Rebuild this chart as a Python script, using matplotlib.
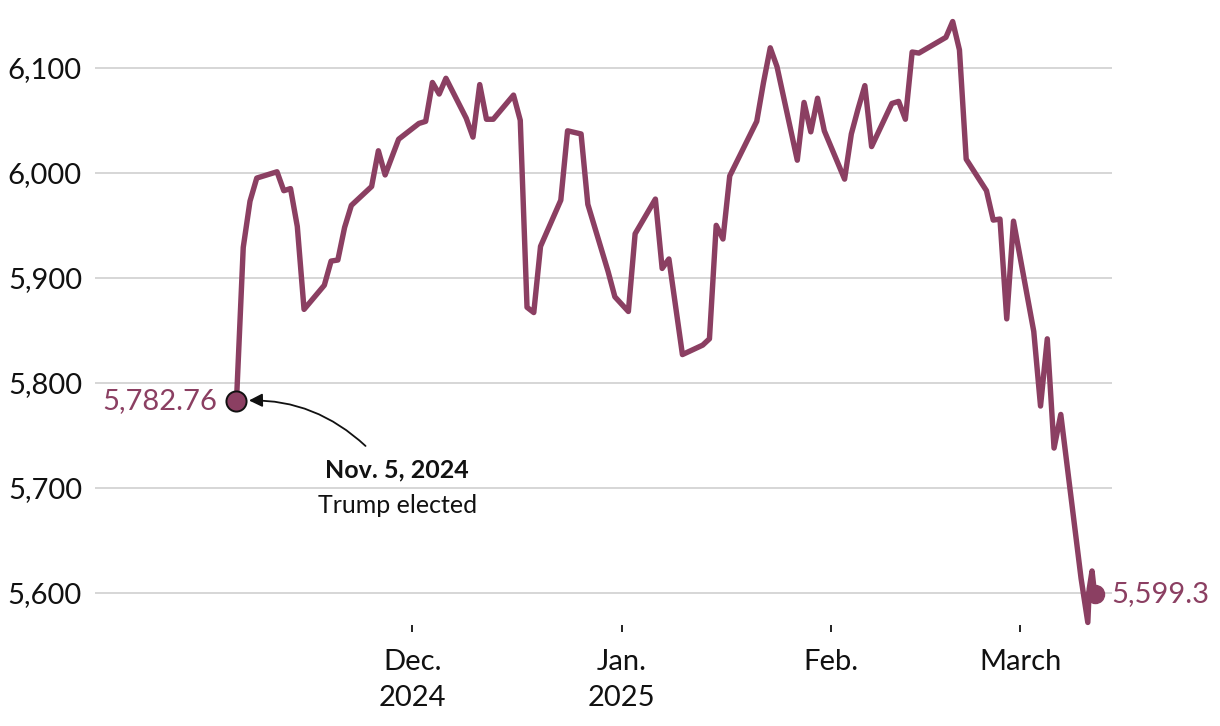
import pandas as pd
import matplotlib.pyplot as plt
import matplotlib.dates as mdates

plt.rcParams['font.family'] = ['Lato', 'DejaVu Sans']

# S&P 500 closes
dates = ['2024-11-05', '2024-11-06', '2024-11-07', '2024-11-08', '2024-11-11',
         '2024-11-12', '2024-11-13', '2024-11-14', '2024-11-15', '2024-11-18',
         '2024-11-19', '2024-11-20', '2024-11-21', '2024-11-22', '2024-11-25',
         '2024-11-26', '2024-11-27', '2024-11-29', '2024-12-02', '2024-12-03',
         '2024-12-04', '2024-12-05', '2024-12-06', '2024-12-09', '2024-12-10',
         '2024-12-11', '2024-12-12', '2024-12-13', '2024-12-16', '2024-12-17',
         '2024-12-18', '2024-12-19', '2024-12-20', '2024-12-23', '2024-12-24',
         '2024-12-26', '2024-12-27', '2024-12-30', '2024-12-31', '2025-01-02',
         '2025-01-03', '2025-01-06', '2025-01-07', '2025-01-08', '2025-01-10',
         '2025-01-13', '2025-01-14', '2025-01-15', '2025-01-16', '2025-01-17',
         '2025-01-21', '2025-01-22', '2025-01-23', '2025-01-24', '2025-01-27',
         '2025-01-28', '2025-01-29', '2025-01-30', '2025-01-31', '2025-02-03',
         '2025-02-04', '2025-02-05', '2025-02-06', '2025-02-07', '2025-02-10',
         '2025-02-11', '2025-02-12', '2025-02-13', '2025-02-14', '2025-02-18',
         '2025-02-19', '2025-02-20', '2025-02-21', '2025-02-24', '2025-02-25',
         '2025-02-26', '2025-02-27', '2025-02-28', '2025-03-03', '2025-03-04',
         '2025-03-05', '2025-03-06', '2025-03-07', '2025-03-10', '2025-03-11',
         '2025-03-11 05:00', '2025-03-11 15:00', '2025-03-12']
values = [5782.76, 5929, 5973, 5995, 6001,
          5983, 5985, 5949, 5870, 5893,
          5916, 5917, 5948, 5969, 5987,
          6021, 5998, 6032, 6047, 6049,
          6086, 6075, 6090, 6052, 6034,
          6084, 6051, 6051, 6074, 6050,
          5872, 5867, 5930, 5974, 6040,
          6037, 5970, 5906, 5882, 5868,
          5942, 5975, 5909, 5918, 5827,
          5836, 5842, 5950, 5937, 5997,
          6049, 6086, 6119, 6101, 6012,
          6067, 6039, 6071, 6040, 5994,
          6037, 6061, 6083, 6025, 6066,
          6068, 6051, 6115, 6114, 6129,
          6144, 6117, 6013, 5983, 5955,
          5956, 5861, 5954, 5849, 5778,
          5842, 5738, 5770, 5614, 5572,
          5604, 5621, 5599.3]

y_ticks = [5600, 5700, 5800, 5900, 6000, 6100]
x_ticks = ['2024-12-01', '2025-01-01', '2025-02-01', '2025-03-01']
x_labels = ['Dec.\n2024', 'Jan.\n2025', 'Feb.', 'March']

purple = '#8b3f62'
x = pd.to_datetime(dates, format='mixed')

fig = plt.figure(figsize=(12.2, 7.26), dpi=100)
ax = fig.add_axes([0.078, 0.139, 0.8335, 0.84])

ax.plot(x, values, color=purple, lw=3.9, solid_joinstyle='round',
        solid_capstyle='round', zorder=3, clip_on=False)

# start and end dots
ax.plot(x[0], values[0], 'o', ms=14.5, mfc=purple, mec='#111111', mew=1.4,
        zorder=4, clip_on=False)
ax.plot(x[-1], values[-1], 'o', ms=13, mfc=purple, mec=purple, zorder=4,
        clip_on=False)

ax.annotate('5,782.76', (x[0], values[0]), xytext=(-14, 0),
            textcoords='offset points', ha='right', va='center',
            fontsize=21, color=purple)
ax.annotate('5,599.3', (x[-1], values[-1]), xytext=(12, 0),
            textcoords='offset points', ha='left', va='center',
            fontsize=21, color=purple)

# election note
note_x = x[0] + pd.Timedelta(days=23.8)
ax.annotate('', xy=(x[0], values[0]),
            xytext=(x[0] + pd.Timedelta(days=19.1), 5740),
            arrowprops=dict(arrowstyle='-|>', color='#111111', lw=1.3,
                            mutation_scale=20, shrinkA=0, shrinkB=9,
                            connectionstyle='arc3,rad=0.22'))
ax.text(note_x, 5717, 'Nov. 5, 2024', ha='center', va='center',
        fontsize=18, fontweight='bold', color='#111111')
ax.text(note_x, 5683, 'Trump elected', ha='center', va='center',
        fontsize=18, color='#111111')

ax.set_ylim(5569.5, 6150)
ax.set_xlim(pd.Timestamp('2024-10-15 02:00'), pd.Timestamp('2025-03-14 14:00'))

ax.set_yticks(y_ticks)
ax.set_yticklabels([f'{v:,}' for v in y_ticks])
ax.set_xticks(pd.to_datetime(x_ticks))
ax.set_xticklabels(x_labels, linespacing=1.45)

ax.grid(axis='y', color='#cccccc', lw=1.1)
ax.set_axisbelow(True)
for s in ax.spines.values():
    s.set_visible(False)

ax.tick_params(axis='y', length=0, pad=9.5, labelsize=21, labelcolor='#111111')
ax.tick_params(axis='x', length=5, width=1.3, color='#111111', pad=12.5,
               labelsize=21, labelcolor='#111111')

fig.savefig('out.png', dpi=100)
